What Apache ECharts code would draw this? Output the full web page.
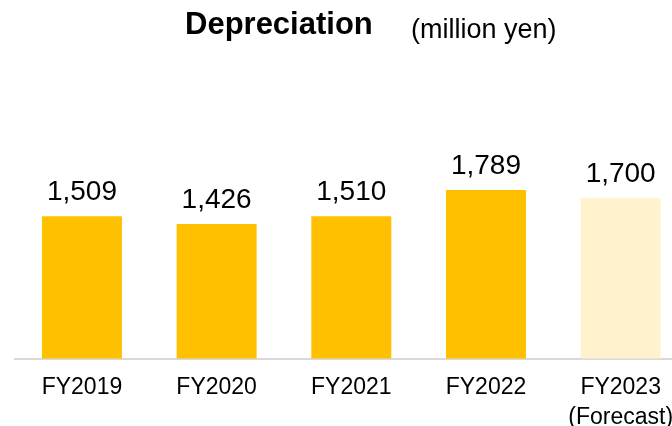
<!DOCTYPE html>
<html>
<head>
<meta charset="utf-8">
<script src="https://cdn.jsdelivr.net/npm/echarts@6/dist/echarts.min.js"></script>
<style>
  html, body { margin: 0; padding: 0; background: #fff; }
  #chart { width: 672px; height: 426px; }
</style>
</head>
<body>
<div id="chart"></div>
<script>
  // 年度
  const categories = ['FY2019', 'FY2020', 'FY2021', 'FY2022', 'FY2023\n(Forecast)']
  // 減価償却費 (million yen)
  const depreciation = [1509, 1426, 1510, 1789, 1700]
  // 予想かどうか
  const isForecast = [false, false, false, false, true]

  const FONT = '"Liberation Sans", Arial, sans-serif'

  const chart = echarts.init(document.getElementById('chart'))

  const option = {
    backgroundColor: '#fff',
    animation: false,
    title: [
      {
        text: 'Depreciation',
        left: 180,
        top: 5,
        textStyle: { fontFamily: FONT, fontSize: 31, fontWeight: 'bold', color: '#000' }
      },
      {
        text: '(million yen)',
        left: 406,
        top: 12,
        textStyle: { fontFamily: FONT, fontSize: 27, fontWeight: 'normal', color: '#000' }
      }
    ],
    grid: {
      left: 14.6,
      right: -16,
      top: 170,
      bottom: 67.5,
      containLabel: false,
      outerBoundsMode: 'none'
    },
    xAxis: {
      type: 'category',
      data: categories,
      axisLine: { lineStyle: { color: '#d9d9d9', width: 2 } },
      axisTick: { show: false },
      axisLabel: {
        interval: 0,
        margin: 14,
        color: '#000',
        fontFamily: FONT,
        fontSize: 23,
        lineHeight: 30
      }
    },
    yAxis: {
      type: 'value',
      min: 0,
      max: 2000,
      show: false,
      splitLine: { show: false }
    },
    series: [
      {
        type: 'bar',
        barWidth: 80,
        data: depreciation.map((v, i) => ({
          value: v,
          itemStyle: { color: isForecast[i] ? '#fff2cc' : '#ffc000' }
        })),
        label: {
          show: true,
          position: 'top',
          distance: 10,
          color: '#000',
          fontFamily: FONT,
          fontSize: 28,
          formatter: p => p.value.toLocaleString('en-US')
        }
      }
    ]
  }

  chart.setOption(option)
</script>
</body>
</html>
